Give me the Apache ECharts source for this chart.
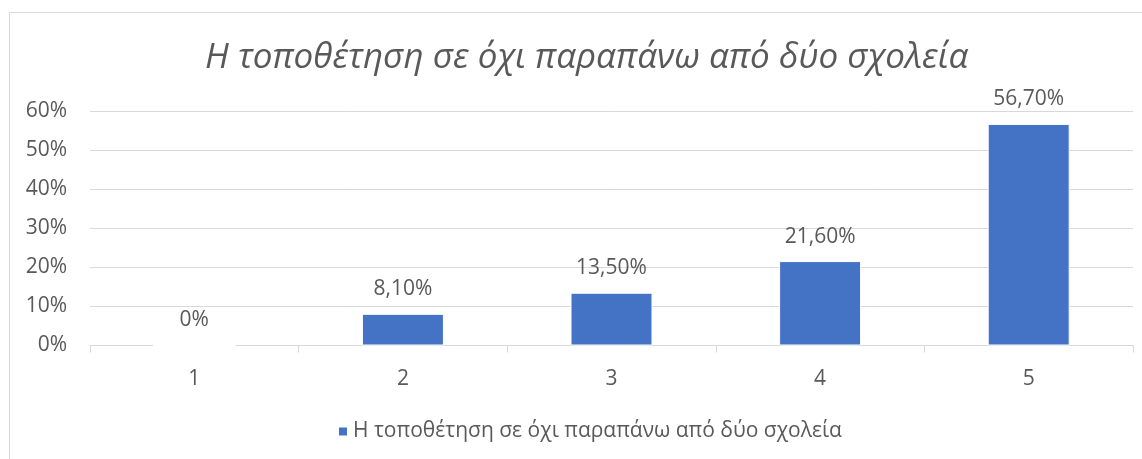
<!DOCTYPE html>
<html>
<head>
<meta charset="utf-8">
<script src="https://cdn.jsdelivr.net/npm/echarts@6/dist/echarts.min.js"></script>
<style>
html,body{margin:0;padding:0;background:#fff;}
#chart{width:1142px;height:459px;}
</style>
</head>
<body>
<div id="chart"></div>
<script>
const titleText = 'Η τοποθέτηση σε όχι παραπάνω από δύο σχολεία';
const seriesName = 'Η τοποθέτηση σε όχι παραπάνω από δύο σχολεία';
const categories = ['1', '2', '3', '4', '5'];
const values = [0, 8.1, 13.5, 21.6, 56.7];
const yTicks = [0, 10, 20, 30, 40, 50, 60];

const FONT = '"Open Sans", sans-serif';
const TXT = '#595959';

const chart = echarts.init(document.getElementById('chart'), null, {renderer: 'canvas'});
chart.setOption({
  animation: false,
  backgroundColor: '#fff',
  title: {
    text: titleText,
    left: 200,
    top: 36,
    textStyle: {fontFamily: FONT, fontStyle: 'italic', fontWeight: 'normal', fontSize: 35, color: TXT}
  },
  legend: {
    bottom: 12,
    left: 332,
    itemWidth: 10,
    itemHeight: 10,
    itemGap: 6,
    icon: 'rect',
    textStyle: {fontFamily: FONT, fontSize: 21, color: TXT},
    data: [seriesName]
  },
  graphic: [
    {type: 'line', shape: {x1: 9.5, y1: 12.5, x2: 9.5, y2: 459}, style: {stroke: '#d9d9d9', lineWidth: 1}},
    {type: 'line', shape: {x1: 9.5, y1: 12.5, x2: 1142, y2: 12.5}, style: {stroke: '#d9d9d9', lineWidth: 1}}
  ],
  grid: {left: 90, right: 9, top: 111, bottom: 113.5, containLabel: false},
  xAxis: {
    type: 'category',
    data: categories,
    axisLine: {show: true, lineStyle: {color: '#d9d9d9', width: 1}},
    axisTick: {show: true, length: 7, lineStyle: {color: '#d9d9d9'}},
    axisLabel: {fontFamily: FONT, fontSize: 21, color: TXT, margin: 23}
  },
  yAxis: {
    type: 'value',
    min: yTicks[0],
    max: yTicks[yTicks.length - 1],
    interval: 10,
    axisLine: {show: false},
    axisTick: {show: false},
    axisLabel: {fontFamily: FONT, fontSize: 21, color: TXT, margin: 23, formatter: v => v + '%'},
    splitLine: {lineStyle: {color: '#d9d9d9', width: 1}}
  },
  series: [{
    name: seriesName,
    type: 'bar',
    data: values,
    barWidth: 82,
    itemStyle: {color: '#4472c4', borderColor: '#ffffff', borderWidth: 1},
    label: {
      show: true,
      position: 'top',
      distance: 14,
      fontFamily: FONT,
      fontSize: 21,
      color: TXT,
      formatter: p => p.value === 0 ? '0%' : p.value.toFixed(2).replace('.', ',') + '%'
    }
  }]
});
</script>
</body>
</html>
